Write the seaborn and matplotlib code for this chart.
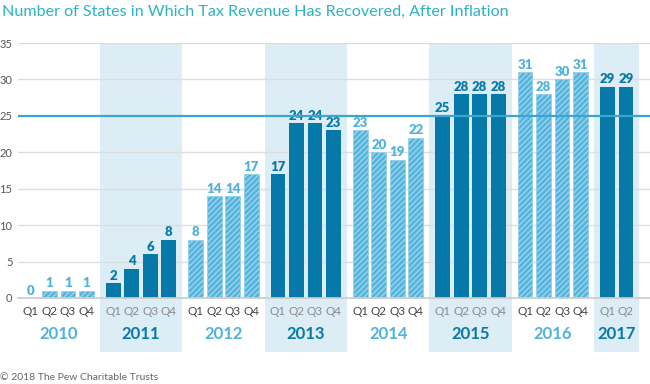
import numpy as np
import pandas as pd
import seaborn as sns
import matplotlib.pyplot as plt

# Dane
years = ["2010", "2011", "2012", "2013", "2014", "2015", "2016", "2017"]
quarters_per_year = [4, 4, 4, 4, 4, 4, 4, 2]
values = [
    0, 1, 1, 1,
    2, 4, 6, 8,
    8, 14, 14, 17,
    17, 24, 24, 23,
    23, 20, 19, 22,
    25, 28, 28, 28,
    31, 28, 30, 31,
    29, 29,
]
threshold = 25

light = "#4fb3dd"
hatch_col = "#95d0ea"
dark = "#0679a8"
band = "#dcedf5"

sns.set_theme(style="white")
plt.rcParams["font.family"] = ["Lato", "DejaVu Sans"]
plt.rcParams["hatch.linewidth"] = 1.2

# Budowa tabeli z pozycjami (przerwa między latami)
gap = 0.45
rows = []
k = 0
for yi, (yr, nq) in enumerate(zip(years, quarters_per_year)):
    for q in range(nq):
        rows.append({
            "pos": k + yi * gap,
            "value": values[k],
            "quarter": f"Q{q + 1}",
            "year": yr,
            "kind": "solid" if yi % 2 else "hatched",
        })
        k += 1
df = pd.DataFrame(rows)

fig = plt.figure(figsize=(6.5, 3.84), dpi=100)
ax = fig.add_axes([0.0277, 0.224, 0.9723, 0.664])

ax = sns.barplot(
    data=df, x="pos", y="value", hue="kind", hue_order=["hatched", "solid"],
    palette={"hatched": light, "solid": dark}, native_scale=True, saturation=1,
    dodge=False, width=0.8, legend=False, ax=ax, zorder=3,
)

# Kreskowanie jasnych słupków
for p in ax.containers[0]:
    p.set_hatch("//////")
    p.set_edgecolor(hatch_col)
    p.set_linewidth(0.6)
for p in ax.containers[1]:
    p.set_edgecolor("none")

ax.bar_label(ax.containers[0], color=light, fontweight="heavy", fontsize=9.5, padding=1)
ax.bar_label(ax.containers[1], color=dark, fontweight="heavy", fontsize=9.5, padding=1)

# Tła dla co drugiego roku i podpisy lat
xt = ax.get_xaxis_transform()
for yi, yr in enumerate(years):
    sub = df[df["year"] == yr]
    x0 = sub["pos"].min() - 0.725
    x1 = sub["pos"].max() + 0.725
    if yi % 2:
        ax.axvspan(x0, x1, ymin=-0.212, ymax=1, color=band, lw=0, zorder=0, clip_on=False)
    ax.text(sub["pos"].mean(), -0.14, yr, transform=xt, ha="center", va="center",
            fontsize=12, fontweight="bold", color=dark if yi % 2 else light)

ax.set_xticks(df["pos"])
ax.set_xticklabels(df["quarter"], fontsize=8.5)
for lbl, yr in zip(ax.get_xticklabels(), df["year"]):
    lbl.set_color("#8a8a8a" if years.index(yr) % 2 else "#444444")
ax.tick_params(axis="x", length=0, pad=6)
ax.tick_params(axis="y", length=0, pad=4, labelsize=8, labelcolor="#555555")

ax.set_xlim(-0.70, 33.45)
ax.set_ylim(0, 35)
ax.set_yticks(range(0, 36, 5))
ax.set_xlabel("")
ax.set_ylabel("")

# Linie siatki
for yv in range(5, 36, 5):
    if yv != threshold:
        ax.axhline(yv, color="#dddddd", lw=1, zorder=1)
ax.axhline(threshold, color="#3aa5d1", lw=1.6, zorder=4)
sns.despine(ax=ax, left=True, right=True, top=True)
ax.spines["bottom"].set_color("#cccccc")
ax.spines["bottom"].set_zorder(5)

fig.text(0.003, 0.968, "Number of States in Which Tax Revenue Has Recovered, After Inflation",
         fontsize=11.6, color="#2bb3c3", fontweight="normal", va="center", ha="left")
fig.text(0.0, 0.016, "\u00a9 2018 The Pew Charitable Trusts", fontsize=7.5,
         color="#666666", va="center", ha="left")

plt.savefig("out.png", dpi=100)
